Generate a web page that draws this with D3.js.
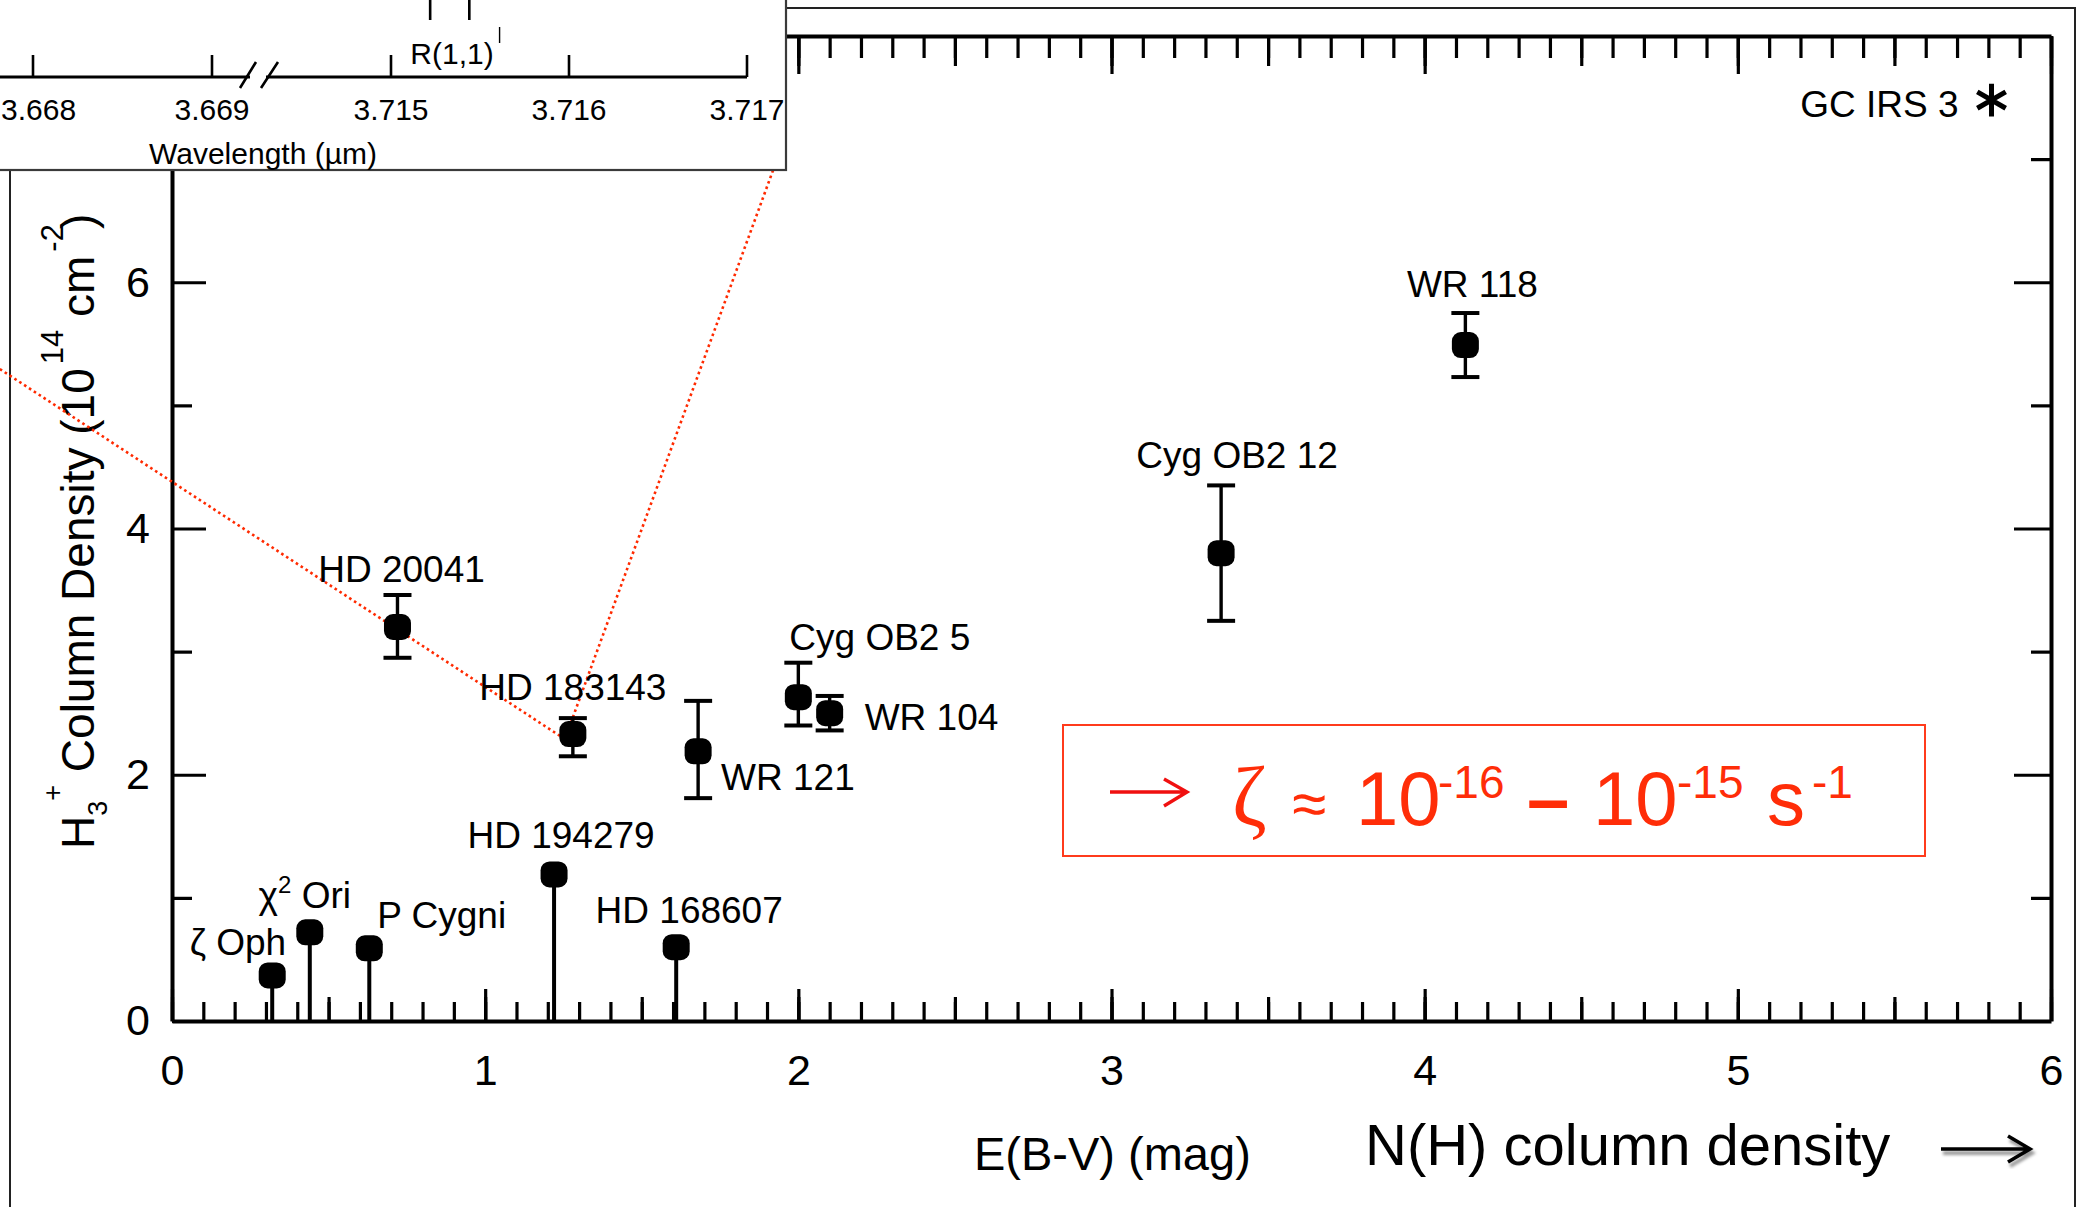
<!DOCTYPE html>
<html>
<head>
<meta charset="utf-8">
<title>H3+ column density versus reddening</title>
<script src="https://cdn.jsdelivr.net/npm/d3@7"></script>
<style>
  html, body { margin: 0; padding: 0; background: #fff; }
  svg { display: block; }
  text { font-family: "Liberation Sans", Arial, Helvetica, sans-serif; fill: #000; white-space: pre; }
</style>
</head>
<body>
<svg id="chart" width="2078" height="1207"></svg>
<script>
// ---------------- data ----------------
// Sight lines with H3+ detections: E(B-V) in mag, N(H3+) in 1e14 cm^-2 with 1-sigma range
const detectionNames = ["HD 20041", "HD 183143", "WR 121", "Cyg OB2 5", "WR 104", "Cyg OB2 12", "WR 118"];
const detectionEBV   = [0.72, 1.28, 1.68, 2.00, 2.10, 3.35, 4.13];
const detectionN     = [3.20, 2.33, 2.19, 2.63, 2.50, 3.80, 5.49];
const detectionLow   = [2.95, 2.15, 1.81, 2.40, 2.36, 3.25, 5.23];
const detectionHigh  = [3.46, 2.46, 2.60, 2.91, 2.64, 4.35, 5.75];

// Sight lines with upper limits only (drawn as stems from zero)
const limitNames = ["ζ Oph", "χ^2 Ori", "P Cygni", "HD 194279", "HD 168607"];
const limitEBV   = [0.32, 0.44, 0.63, 1.22, 1.61];
const limitN     = [0.37, 0.72, 0.59, 1.19, 0.60];

// Galactic-centre source placed at the edge of the frame
const edgeNames = ["GC IRS 3"];
const edgeEBV   = [5.81];
const edgeN     = [7.48];

// Tick values
const xTickValues = [0, 1, 2, 3, 4, 5, 6];
const yTickValues = [0, 2, 4, 6];
const insetTicksA = [3.668, 3.669];          // left piece of the broken wavelength axis
const insetTicksB = [3.715, 3.716, 3.717];   // right piece
const insetLineMarks = [3.71522, 3.71544];   // line-position markers above the spectrum axis
const insetWeakMarks = [3.71561];

// ---------------- layout ----------------
const labelLayout = {
  "HD 20041":   { dx: 4,   dy: -45, anchor: "middle" },
  "HD 183143":  { dx: 0,   dy: -34, anchor: "middle" },
  "WR 121":     { dx: 23,  dy: 39,  anchor: "start" },
  "Cyg OB2 5":  { dx: -9,  dy: -47, anchor: "start" },
  "WR 104":     { dx: 35,  dy: 17,  anchor: "start" },
  "Cyg OB2 12": { dx: 16,  dy: -85, anchor: "middle" },
  "WR 118":     { dx: 7,   dy: -48, anchor: "middle" },
  "ζ Oph":      { dx: 14,  dy: -20, anchor: "end" },
  "χ^2 Ori":    { dx: -5,  dy: -24, anchor: "middle" },
  "P Cygni":    { dx: 8,   dy: -20, anchor: "start" },
  "HD 194279":  { dx: 7,   dy: -26, anchor: "middle" },
  "HD 168607":  { dx: 13,  dy: -24, anchor: "middle" },
  "GC IRS 3":   { dx: -33, dy: 17,  anchor: "end" }
};
const FONT = "Liberation Sans, Arial, Helvetica, sans-serif";
const RED = "#ff2d08";

const svg = d3.select("#chart");
const x = d3.scaleLinear().domain([0, 6]).range([172, 2051]);
const y = d3.scaleLinear().domain([0, 8]).range([1021, 36]);

// outer page frame
svg.append("rect").attr("x", 10).attr("y", 8).attr("width", 2065).attr("height", 1260)
  .attr("fill", "none").attr("stroke", "#222").attr("stroke-width", 2);

// ---------------- axes ----------------
const tenths = d3.range(0, 61).map(i => i / 10);
const halves = d3.range(0, 13).map(i => i / 2);
const units  = d3.range(0, 9);

function styleAxis(g, keepDomain) {
  g.attr("font-family", FONT).attr("font-size", 43);
  if (keepDomain) g.select(".domain").attr("stroke", "#000").attr("stroke-width", 4);
  else g.select(".domain").remove();
  g.selectAll(".tick line").attr("stroke", "#000").attr("stroke-width", 3.2);
  g.selectAll(".tick text").attr("fill", "#000");
}
function tickLayer(parent, gen, values, size, keepDomain, fmt) {
  const g = parent.append("g").call(
    gen.tickValues(values).tickSize(size).tickSizeOuter(0).tickFormat(fmt || (() => ""))
  );
  styleAxis(g, keepDomain);
  return g;
}

// bottom
const gBottom = svg.append("g").attr("transform", `translate(0,${y(0)})`);
tickLayer(gBottom, d3.axisBottom(x), tenths, -19, false);
tickLayer(gBottom, d3.axisBottom(x), halves, -24, false);
tickLayer(gBottom, d3.axisBottom(x).tickPadding(33), xTickValues, -32, true, d3.format("d"));

// top
const gTop = svg.append("g").attr("transform", `translate(0,${y(8)})`);
tickLayer(gTop, d3.axisTop(x), tenths, -22, false);
tickLayer(gTop, d3.axisTop(x), halves, -30, false);
tickLayer(gTop, d3.axisTop(x), xTickValues, -38, true);

// left
const gLeft = svg.append("g").attr("transform", `translate(${x(0)},0)`);
tickLayer(gLeft, d3.axisLeft(y), units.filter(d => d % 2), -20, false);
tickLayer(gLeft, d3.axisLeft(y).tickPadding(22), units.filter(d => d % 2 === 0), -34, true,
  d => yTickValues.includes(d) ? d3.format("d")(d) : "");

// right
const gRight = svg.append("g").attr("transform", `translate(${x(6)},0)`);
tickLayer(gRight, d3.axisRight(y), units.filter(d => d % 2), -20, false);
tickLayer(gRight, d3.axisRight(y), units.filter(d => d % 2 === 0), -37, true);

// axis titles
svg.append("text").attr("x", 974).attr("y", 1170).attr("font-size", 47).text("E(B-V) (mag)");

const yTitle = svg.append("text")
  .attr("transform", "translate(94,849) rotate(-90)")
  .attr("text-anchor", "start").attr("font-size", 46);
yTitle.append("tspan").text("H");
yTitle.append("tspan").attr("font-size", 27).attr("dy", 13).text("3");
yTitle.append("tspan").attr("font-size", 27).attr("dy", -45).text("+");
yTitle.append("tspan").attr("dy", 32).text(" Column Density (10");
yTitle.append("tspan").attr("font-size", 31).attr("dy", -31).attr("dx", 4).text("14");
yTitle.append("tspan").attr("dy", 31).text(" cm");
yTitle.append("tspan").attr("font-size", 31).attr("dy", -31).attr("dx", 4).text("-2");
yTitle.append("tspan").attr("dy", 31).attr("dx", -5).text(")");

// N(H) direction note with arrow
svg.append("text").attr("x", 1365).attr("y", 1165)
  .attr("font-family", "Lato, 'Noto Sans', sans-serif").attr("font-size", 58)
  .text("N(H) column density");
const defs = svg.append("defs");
defs.append("filter").attr("id", "soft").append("feGaussianBlur").attr("stdDeviation", 1.6);
const arrowPath = "M1941,1149H2028M2008,1136L2030,1149L2008,1162";
svg.append("path").attr("d", arrowPath).attr("transform", "translate(2,4)")
  .attr("fill", "none").attr("stroke", "#9a9a9a").attr("stroke-width", 4).attr("filter", "url(#soft)");
svg.append("path").attr("d", arrowPath)
  .attr("fill", "none").attr("stroke", "#000").attr("stroke-width", 3.6).attr("stroke-linejoin", "miter");

// ---------------- pointer lines to HD 183143 ----------------
const iHD = detectionNames.indexOf("HD 183143");
const pHD = [x(detectionEBV[iHD]) - 8, y(detectionN[iHD]) + 5];
const leftSlope = 0.655;
const pointer = svg.append("g").attr("fill", "none").attr("stroke", "#ff2a00")
  .attr("stroke-width", 2.6).attr("stroke-dasharray", "2.6 3.2");
pointer.append("line").attr("x1", pHD[0]).attr("y1", pHD[1]).attr("x2", -10)
  .attr("y2", pHD[1] - (pHD[0] + 10) * leftSlope);
pointer.append("line").attr("x1", pHD[0]).attr("y1", pHD[1]).attr("x2", 775).attr("y2", 165);

// ---------------- markers ----------------
const MW = 27, MH = 26;
const marks = svg.append("g");

// upper limits: stem from zero to the value, marker at the top
limitNames.forEach((name, i) => {
  const cx = x(limitEBV[i]), cy = y(limitN[i]);
  marks.append("line").attr("x1", cx).attr("x2", cx).attr("y1", y(0)).attr("y2", cy)
    .attr("stroke", "#000").attr("stroke-width", 4);
  marks.append("rect").attr("x", cx - MW / 2).attr("y", cy - MH / 2).attr("width", MW).attr("height", MH)
    .attr("rx", 9).attr("fill", "#000");
});

// detections with error bars
detectionNames.forEach((name, i) => {
  const cx = x(detectionEBV[i]), cy = y(detectionN[i]);
  const y0 = y(detectionLow[i]), y1 = y(detectionHigh[i]);
  const eb = marks.append("g").attr("stroke", "#000").attr("stroke-width", 4);
  eb.append("line").attr("x1", cx).attr("x2", cx).attr("y1", y0).attr("y2", y1).attr("stroke-width", 3.4);
  eb.append("line").attr("x1", cx - 14).attr("x2", cx + 14).attr("y1", y0).attr("y2", y0);
  eb.append("line").attr("x1", cx - 14).attr("x2", cx + 14).attr("y1", y1).attr("y2", y1);
  marks.append("rect").attr("x", cx - MW / 2).attr("y", cy - MH / 2).attr("width", MW).attr("height", MH)
    .attr("rx", 9).attr("fill", "#000");
});

// edge source: asterisk
edgeNames.forEach((name, i) => {
  marks.append("path").attr("d", d3.symbol(d3.symbolAsterisk, 760)())
    .attr("transform", `translate(${x(edgeEBV[i])},${y(edgeN[i])})`)
    .attr("fill", "none").attr("stroke", "#000").attr("stroke-width", 5);
});

// ---------------- labels ----------------
const gLabels = svg.append("g").attr("font-size", 37);
function drawLabel(name, px, py) {
  const L = labelLayout[name];
  const t = gLabels.append("text").attr("x", px + L.dx).attr("y", py + L.dy)
    .attr("text-anchor", L.anchor);
  const parts = name.split(/\^(\S+)/);   // "χ^2 Ori" -> ["χ", "2", " Ori"]
  parts.forEach((p, k) => {
    if (k % 2 === 1) t.append("tspan").attr("font-size", 24).attr("dy", -15).text(p);
    else {
      const s = t.append("tspan").text(p);
      if (k > 0) s.attr("dy", 15);
    }
  });
}
detectionNames.forEach((n, i) => drawLabel(n, x(detectionEBV[i]), y(detectionN[i])));
limitNames.forEach((n, i) => drawLabel(n, x(limitEBV[i]), y(limitN[i])));
edgeNames.forEach((n, i) => drawLabel(n, x(edgeEBV[i]), y(edgeN[i])));

// ---------------- ionisation-rate box ----------------
const box = svg.append("g");
box.append("rect").attr("x", 1063).attr("y", 725).attr("width", 862).attr("height", 131)
  .attr("fill", "#fff").attr("stroke", "#ff3b1c").attr("stroke-width", 2);
box.append("path").attr("d", "M1110,792H1185M1164,779L1187,792L1164,806")
  .attr("fill", "none").attr("stroke", "#f01010").attr("stroke-width", 3.4);
const formula = box.append("text").attr("fill", RED).style("fill", RED)
  .attr("font-family", "Lato, 'Noto Sans', sans-serif").attr("font-size", 76);
formula.append("tspan").attr("x", 1232).attr("y", 825)
  .attr("font-family", "'Liberation Serif', 'DejaVu Serif', serif").attr("font-size", 84).text("ζ");
formula.append("tspan").attr("x", 1292).attr("y", 825).attr("font-size", 62).text("≈");
formula.append("tspan").attr("x", 1356).attr("y", 825).text("10");
formula.append("tspan").attr("x", 1438).attr("y", 798).attr("font-size", 46).text("-16");
formula.append("tspan").attr("x", 1527).attr("y", 825).attr("font-weight", 700).text("–");
formula.append("tspan").attr("x", 1593).attr("y", 825).text("10");
formula.append("tspan").attr("x", 1677).attr("y", 798).attr("font-size", 46).text("-15");
formula.append("tspan").attr("x", 1767).attr("y", 825).text("s");
formula.append("tspan").attr("x", 1812).attr("y", 798).attr("font-size", 46).text("-1");

// ---------------- wavelength inset (spectrum panel) ----------------
const insetW = 786, insetH = 170;
const inset = svg.append("g");
defs.append("clipPath").attr("id", "insetClip").append("rect")
  .attr("x", 0).attr("y", 0).attr("width", insetW).attr("height", insetH);
inset.append("rect").attr("x", -10).attr("y", -10).attr("width", insetW + 10).attr("height", insetH + 10)
  .attr("fill", "#fff").attr("stroke", "#3a3a3a").attr("stroke-width", 2.2);
const ins = inset.append("g").attr("clip-path", "url(#insetClip)");
const wA = d3.scaleLinear().domain([3.668, 3.669]).range([33, 212]);
const wB = d3.scaleLinear().domain([3.715, 3.717]).range([391, 747]);
const axisY = 77;
ins.append("path").attr("d", `M-5,${axisY}H250M266,${axisY}H${wB(3.717)}`)
  .attr("stroke", "#000").attr("stroke-width", 3.2).attr("fill", "none");
ins.append("path").attr("d", "M240,88L256,62M261,88L278,62")
  .attr("stroke", "#000").attr("stroke-width", 2.6).attr("fill", "none");
const insetTicks = insetTicksA.map(v => ({ v, px: wA(v) })).concat(insetTicksB.map(v => ({ v, px: wB(v) })));
insetTicks.forEach(t => {
  ins.append("line").attr("x1", t.px).attr("x2", t.px).attr("y1", axisY).attr("y2", axisY - 22)
    .attr("stroke", "#000").attr("stroke-width", 2.6);
  const lab = ins.append("text").attr("x", t.px).attr("y", 120).attr("text-anchor", "middle")
    .attr("font-size", 30).text(d3.format(".3f")(t.v));
  // keep the leftmost wavelength label inside the panel
  const bb = lab.node().getBBox();
  if (bb.x < 1) lab.attr("x", t.px + (1 - bb.x));
});
insetLineMarks.forEach(v => {
  ins.append("line").attr("x1", wB(v)).attr("x2", wB(v)).attr("y1", -4).attr("y2", 20)
    .attr("stroke", "#000").attr("stroke-width", 2.6);
});
insetWeakMarks.forEach(v => {
  ins.append("line").attr("x1", wB(v)).attr("x2", wB(v)).attr("y1", 27).attr("y2", 43)
    .attr("stroke", "#000").attr("stroke-width", 1.4);
});
ins.append("text").attr("x", 452).attr("y", 64).attr("text-anchor", "middle").attr("font-size", 30).text("R(1,1)");
ins.append("text").attr("x", 263).attr("y", 164).attr("text-anchor", "middle").attr("font-size", 30).text("Wavelength (µm)");
</script>
</body>
</html>
